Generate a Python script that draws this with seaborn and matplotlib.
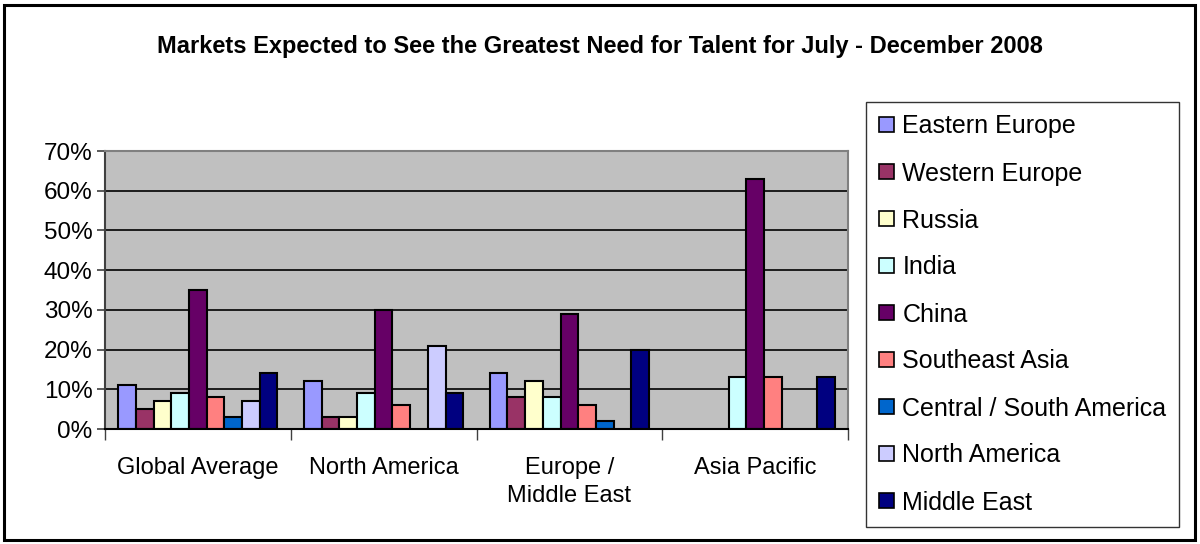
import numpy as np
import pandas as pd
import matplotlib
matplotlib.use("Agg")
import matplotlib.pyplot as plt
from matplotlib.patches import Rectangle, Patch
from matplotlib.ticker import FixedLocator, FuncFormatter
import seaborn as sns

# Survey regions (x categories) and markets (series)
regions = ["Global Average", "North America", "Europe /\nMiddle East", "Asia Pacific"]
markets = ["Eastern Europe", "Western Europe", "Russia", "India", "China",
           "Southeast Asia", "Central / South America", "North America", "Middle East"]

# Share of respondents per market, in percent, one list per region
global_average = [11, 5, 7, 9, 35, 8, 3, 7, 14]
north_america = [12, 3, 3, 9, 30, 6, 0, 21, 9]
europe_middle_east = [14, 8, 12, 8, 29, 6, 2, 0, 20]
asia_pacific = [0, 0, 0, 13, 63, 13, 0, 0, 13]

y_ticks = [0, 10, 20, 30, 40, 50, 60, 70]

colors = ["#9999FF", "#993366", "#FFFFCC", "#CCFFFF", "#660066",
          "#FF8080", "#0066CC", "#CCCCFF", "#000080"]

rows = []
for region, vals in zip(regions, [global_average, north_america,
                                  europe_middle_east, asia_pacific]):
    for m, v in zip(markets, vals):
        rows.append({"region": region, "market": m, "value": v / 100.0})
df = pd.DataFrame(rows)

sns.set_style("white")
plt.rcParams["font.family"] = ["Liberation Sans", "DejaVu Sans"]
plt.rcParams["text.color"] = "black"
plt.rcParams["xtick.color"] = "black"
plt.rcParams["ytick.color"] = "black"
plt.rcParams["axes.labelcolor"] = "black"

fig = plt.figure(figsize=(12, 5.44), dpi=100)
ax = fig.add_axes([105 / 1200, 1 - 429 / 544, (848 - 105) / 1200, (429 - 151) / 544])

sns.barplot(data=df, x="region", y="value", hue="market", order=regions,
            hue_order=markets, palette=colors, width=9 / 10.5, dodge=True,
            saturation=1, edgecolor="black", linewidth=1.5, errorbar=None,
            legend=False, ax=ax)

# empty categories get no bar
for p in ax.patches:
    if abs(p.get_height()) < 1e-9:
        p.set_visible(False)

ax.set_facecolor("#C0C0C0")
ax.set_xlim(-0.5, 3.5)
ax.set_ylim(0, 0.70)
ax.set_yticks([t / 100 for t in y_ticks])
ax.yaxis.set_major_formatter(FuncFormatter(lambda v, _: f"{v * 100:.0f}%"))
ax.tick_params(axis="y", labelsize=17.5, length=6, width=1.2, color="#404040",
               labelcolor="black", direction="out", left=True, pad=3)
ax.grid(axis="y", color="black", linewidth=1.2)
ax.set_axisbelow(True)

ax.xaxis.set_minor_locator(FixedLocator([-0.5, 0.5, 1.5, 2.5, 3.5]))
ax.tick_params(axis="x", which="major", length=0, labelsize=17, pad=20,
               labelcolor="black")
ax.tick_params(axis="x", which="minor", length=8, width=1.0, color="#404040",
               direction="out", bottom=True)
for lbl in ax.get_xticklabels():
    lbl.set_linespacing(1.35)
ax.set_xlabel("")
ax.set_ylabel("")

for side in ["top", "right"]:
    ax.spines[side].set_color("#808080")
    ax.spines[side].set_linewidth(1.5)
ax.spines["left"].set_color("#404040")
ax.spines["left"].set_linewidth(1.5)
ax.spines["bottom"].set_color("black")
ax.spines["bottom"].set_linewidth(1.5)

handles = [Patch(facecolor=c, edgecolor="black", linewidth=1.2) for c in colors]
leg = fig.legend(handles, markets, loc="upper left",
                 bbox_to_anchor=(866 / 1200, 1 - 102 / 544),
                 bbox_transform=fig.transFigure, fontsize=18, frameon=True,
                 fancybox=False, edgecolor="black", borderaxespad=0,
                 handlelength=0.6, handleheight=0.55, handletextpad=0.36,
                 labelspacing=0.92, borderpad=0.5, labelcolor="black")
leg.get_frame().set_linewidth(1.0)

fig.text(0.5, 1 - 47 / 544, "Markets Expected to See the Greatest Need for Talent for July - December 2008",
         ha="center", va="center", fontsize=17, fontweight="bold", color="black")

fig.patches.append(Rectangle((4 / 1200, 4 / 544), 1 - 9 / 1200, 1 - 9 / 544,
                             transform=fig.transFigure, fill=False,
                             edgecolor="black", linewidth=2.2))

fig.savefig("out.png", dpi=100)
